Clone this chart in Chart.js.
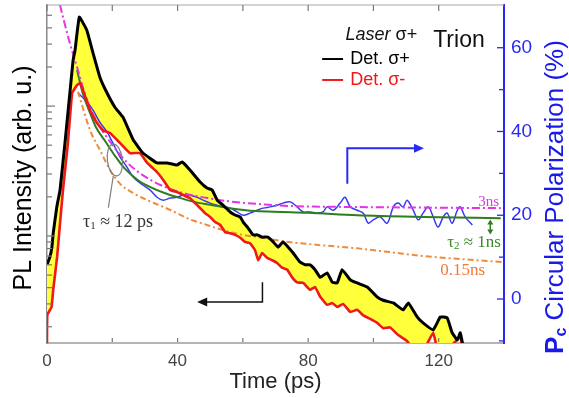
<!DOCTYPE html>
<html>
<head>
<meta charset="utf-8">
<script src="https://cdn.jsdelivr.net/npm/chart.js@4/dist/chart.umd.min.js"></script>
<style>
    body { margin: 0; background: #fff; }
    #box { width: 569px; height: 398px; }
</style>
</head>
<body>
<div id="box"><canvas id="chart"></canvas></div>
<script>
// tick values
const timeTicks = [0, 40, 80, 120]
const timeMinor = [20, 60, 100]
const pcTicks = [0, 20, 40, 60]
const pcMinor = [-10, 10, 30, 50]
const plMajor = [1, 10]
const plMinor = [0.2, 0.3, 0.4, 0.5, 0.6, 0.7, 0.8, 0.9, 2, 3, 4, 5, 6, 7, 8, 9, 20, 30, 40, 50]

// Det. sigma+ (black), PL intensity
const blackTime = [0, 0.9, 1.5, 1.9, 3.0, 3.4, 4.0, 5.5, 7.0, 8.0, 8.6, 9.9, 12.2, 14.1, 16.2, 18.4, 20.8, 23.3, 26.4, 29.4, 33.7, 36.8, 39.8, 41.4, 43.8, 46.9, 49.0, 50.6, 52.1, 53.9, 56.1, 57.6, 59.2, 60.1, 61.6, 63.1, 64.4, 65.9, 67.7, 69.3, 70.8, 72.3, 73.9, 75.4, 77.5, 79.1, 80.6, 82.1, 83.7, 85.8, 87.4, 88.9, 90.4, 92.9, 95.0, 98.1, 101.1, 103.0, 106.1, 109.1, 110.7, 113.4, 115.2, 118.3, 120.5, 122.6, 124.1, 125.7, 126.6, 127.5]
const blackPL = [0.60, 0.69, 0.82, 1.05, 1.67, 1.89, 2.26, 5.19, 12.6, 22.6, 27, 48.4, 38.4, 25.6, 16.7, 12.6, 9.8, 8.2, 5.5, 4.35, 3.65, 3.65, 3.52, 3.71, 3.22, 2.60, 2.34, 2.26, 1.89, 1.73, 1.53, 1.45, 1.40, 1.28, 1.15, 1.02, 1.02, 0.98, 0.98, 0.90, 0.82, 0.90, 0.82, 0.74, 0.63, 0.60, 0.60, 0.55, 0.48, 0.52, 0.44, 0.435, 0.55, 0.46, 0.435, 0.405, 0.34, 0.32, 0.305, 0.27, 0.305, 0.238, 0.214, 0.189, 0.238, 0.234, 0.18, 0.158, 0.18, 0.14]

// Det. sigma- (red), PL intensity
const redTime = [0, 0.1, 1.4, 1.9, 3.1, 4.0, 4.9, 6.4, 7.7, 9.2, 10.1, 11.0, 13.2, 15.3, 17.2, 19.3, 22.4, 25.4, 28.5, 30.7, 33.7, 35.6, 37.7, 39.8, 41.7, 43.8, 46.9, 48.4, 50.0, 51.5, 53.0, 54.6, 56.1, 57.6, 59.2, 60.7, 62.2, 63.7, 64.7, 65.9, 67.4, 69.0, 70.5, 72.0, 73.6, 75.1, 76.6, 78.5, 80.6, 82.1, 83.7, 85.8, 87.4, 88.9, 90.7, 92.9, 95.0, 96.9, 99.0, 101.1, 103.0, 105.1, 107.3, 109.1, 110.3, 112.8, 115.9, 118.3, 119.8, 123.5, 126.6, 127.5]
const redPL = [0.14, 0.247, 0.284, 0.385, 0.69, 1.26, 2.26, 5.19, 12.6, 14.5, 15.0, 13.3, 9.3, 7.4, 6.5, 6.2, 5.19, 4.35, 4.35, 3.65, 3.1, 2.7, 2.26, 2.18, 2.07, 1.95, 1.64, 1.50, 1.40, 1.28, 1.22, 1.07, 1.05, 1.02, 0.97, 0.90, 0.88, 0.78, 0.65, 0.74, 0.68, 0.65, 0.62, 0.57, 0.55, 0.48, 0.44, 0.435, 0.385, 0.405, 0.34, 0.295, 0.305, 0.284, 0.30, 0.26, 0.27, 0.245, 0.23, 0.215, 0.195, 0.198, 0.175, 0.163, 0.155, 0.13, 0.14, 0.18, 0.13, 0.14, 0.167, 0.12]

// circular polarization (blue), %
const blueTime = [9.5, 12.3, 14.1, 16.2, 18.4, 20.2, 22.4, 24.5, 26.4, 28.5, 31.6, 33.7, 35.6, 37.7, 39.8, 41.7, 43.8, 46.0, 47.8, 50.0, 52.1, 53.9, 56.1, 58.2, 60.1, 62.2, 64.4, 66.2, 68.4, 70.5, 72.3, 74.5, 76.6, 78.5, 80.6, 82.8, 84.6, 85.8, 87.7, 89.8, 91.3, 92.9, 95.0, 96.9, 98.4, 99.9, 102.1, 104.2, 106.1, 107.6, 109.1, 110.3, 112.2, 113.7, 115.2, 116.8, 118.3, 119.8, 121.4, 122.6, 124.1, 125.7, 126.6, 128.1, 130.3]
const bluePc = [49.2, 47.0, 45.1, 42.2, 39.9, 37.2, 33.9, 31.5, 29.1, 27.7, 26.0, 24.3, 23.6, 24.1, 24.3, 24.8, 24.8, 24.3, 23.6, 22.9, 22.4, 22.0, 21.7, 20.8, 20.0, 20.5, 21.2, 21.7, 22.0, 22.4, 22.9, 23.2, 22.0, 20.8, 20.8, 20.5, 20.8, 22.0, 21.2, 22.9, 24.3, 22.0, 21.2, 20.5, 18.1, 18.9, 19.6, 18.1, 22.0, 22.9, 22.0, 23.6, 21.2, 18.9, 20.5, 22.0, 19.6, 17.2, 19.6, 20.5, 18.1, 21.2, 22.0, 19.6, 17.7]

// fits, %
const greenTime = [9.2, 11, 13.2, 15, 18, 21, 24, 28, 32, 36, 40, 45, 50, 56, 64, 72, 80, 95, 115, 139]
const greenPc = [54.7, 49, 44.4, 41, 37.5, 34, 31, 28.3, 26.6, 25.3, 24.3, 23.2, 22.5, 21.7, 21.0, 20.8, 20.6, 20.0, 19.6, 19.3]
const magentaTime = [3.0, 4.0, 5.5, 7.0, 9.2, 11, 13, 15.5, 18, 21, 24, 28, 32, 36, 40, 45, 50, 55, 60, 68, 75, 90, 105, 120, 139]
const magentaPc = [74, 70.2, 65.5, 61.1, 55.4, 50.5, 46, 42, 39, 35.8, 33, 30.3, 28.3, 26.8, 25.7, 24.7, 24.0, 23.4, 23.0, 22.5, 22.2, 22.0, 21.9, 21.8, 21.7]
const orangeTime = [9.5, 13.2, 16.2, 19.3, 22.4, 26.4, 30.7, 35.6, 39.8, 43.8, 47.8, 52.1, 56.1, 60.1, 64.4, 68.4, 72.3, 76.6, 84.6, 95, 105, 115, 125.7, 139.8]
const orangePc = [49.5, 40.3, 35.6, 30.8, 27.5, 25.3, 23.6, 22.0, 20.5, 19.0, 18.0, 16.9, 16.0, 15.3, 14.8, 14.3, 13.8, 13.4, 12.8, 12.1, 11.2, 10.3, 9.6, 8.8]

function points(xs, ys) {
    let out = []
    for (let i = 0; i < xs.length; i++) {
        out.push({ x: xs[i], y: ys[i] })
    }
    return out
}

const SANS = "'Liberation Sans', Arial, sans-serif"
const SERIF = "'Liberation Serif', 'Times New Roman', serif"

function stroke(ctx, pts) {
    ctx.beginPath()
    ctx.moveTo(pts[0][0], pts[0][1])
    for (let i = 1; i < pts.length; i++) ctx.lineTo(pts[i][0], pts[i][1])
    ctx.stroke()
}

function head(ctx, x, y, dir, color) {
    // dir: "right", "left", "up", "down"
    ctx.fillStyle = color
    ctx.beginPath()
    if (dir == "right") { ctx.moveTo(x, y); ctx.lineTo(x - 10, y - 4.5); ctx.lineTo(x - 10, y + 4.5) }
    if (dir == "left") { ctx.moveTo(x, y); ctx.lineTo(x + 10, y - 4.5); ctx.lineTo(x + 10, y + 4.5) }
    if (dir == "up") { ctx.moveTo(x, y); ctx.lineTo(x - 3, y + 5); ctx.lineTo(x + 3, y + 5) }
    if (dir == "down") { ctx.moveTo(x, y); ctx.lineTo(x - 3, y - 5); ctx.lineTo(x + 3, y - 5) }
    ctx.closePath()
    ctx.fill()
}

// draws a run of text pieces one after another
function parts(ctx, list, x, y) {
    let cx = x
    for (let p of list) {
        ctx.font = p.font
        ctx.fillStyle = p.color
        ctx.fillText(p.t, cx, y + (p.dy || 0))
        cx += ctx.measureText(p.t).width
    }
    return cx
}

function width(ctx, list) {
    let w = 0
    for (let p of list) {
        ctx.font = p.font
        w += ctx.measureText(p.t).width
    }
    return w
}

let decor = {
    id: "decor",
    afterDraw(chart) {
        let ctx = chart.ctx
        let xs = chart.scales.x, yl = chart.scales.y, yr = chart.scales.y1
        let a = chart.chartArea
        ctx.save()

        // top axis line
        ctx.strokeStyle = "#a8a8a8"
        ctx.lineWidth = 1.2
        stroke(ctx, [[a.left, a.top], [a.right, a.top]])

        // inward ticks
        ctx.strokeStyle = "#777"
        ctx.lineWidth = 1.2
        for (let v of timeTicks.concat(timeMinor)) {
            let px = xs.getPixelForValue(v)
            if (v > 0) stroke(ctx, [[px, a.bottom - 1], [px, a.bottom - 5]])
            stroke(ctx, [[px, a.top], [px, a.top + 6]])
        }
        for (let v of plMajor) {
            let py = yl.getPixelForValue(v)
            stroke(ctx, [[a.left, py], [a.left + 8, py]])
        }
        for (let v of plMinor) {
            let py = yl.getPixelForValue(v)
            stroke(ctx, [[a.left, py], [a.left + 5, py]])
        }
        ctx.strokeStyle = "#2a2af5"
        ctx.lineWidth = 1.3
        for (let v of pcTicks) {
            let py = yr.getPixelForValue(v)
            stroke(ctx, [[a.right, py], [a.right - 7, py]])
        }
        for (let v of pcMinor) {
            let py = yr.getPixelForValue(v)
            stroke(ctx, [[a.right, py], [a.right - 5, py]])
        }

        // axis titles
        ctx.textBaseline = "middle"
        ctx.save()
        ctx.translate(24, (a.top + a.bottom) / 2 + 4)
        ctx.rotate(-Math.PI / 2)
        ctx.textAlign = "center"
        ctx.font = "25px " + SANS
        ctx.fillStyle = "#000"
        ctx.fillText("PL Intensity (arb. u.)", 0, 0)
        ctx.restore()

        ctx.textAlign = "center"
        ctx.font = "22px " + SANS
        ctx.fillStyle = "#222"
        ctx.fillText("Time (ps)", xs.getPixelForValue(70), 382)

        let rt = [
            { t: "P", font: "bold 26px " + SANS, color: "#1a1ae8" },
            { t: "c", font: "bold 16px " + SANS, color: "#1a1ae8", dy: 6 },
            { t: " Circular Polarization (%)", font: "26px " + SANS, color: "#1a1ae8" }
        ]
        ctx.save()
        ctx.translate(556, 197)
        ctx.rotate(-Math.PI / 2)
        ctx.textAlign = "left"
        parts(ctx, rt, -width(ctx, rt) / 2, 0)
        ctx.restore()

        // legend
        ctx.textAlign = "left"
        let lg = [
            { t: "Laser", font: "italic 18px " + SANS, color: "#111" },
            { t: " σ+", font: "18px " + SANS, color: "#111" }
        ]
        let lx = xs.getPixelForValue(113.4)
        parts(ctx, lg, lx - width(ctx, lg), yr.getPixelForValue(63))
        let rows = [["Det. σ+", "#000", 57.3], ["Det. σ-", "#f01818", 52.3]]
        for (let r of rows) {
            let py = yr.getPixelForValue(r[2])
            ctx.strokeStyle = r[1]
            ctx.lineWidth = 2
            stroke(ctx, [[xs.getPixelForValue(84.3), py], [xs.getPixelForValue(90.7), py]])
            ctx.font = "18px " + SANS
            ctx.fillStyle = r[1]
            ctx.fillText(r[0], xs.getPixelForValue(92.9), py)
        }
        ctx.font = "23px " + SANS
        ctx.fillStyle = "#111"
        ctx.fillText("Trion", xs.getPixelForValue(118.3), yr.getPixelForValue(61.8))

        // fit labels
        ctx.font = "15px " + SERIF
        ctx.fillStyle = "#d040e0"
        ctx.fillText("3ns", xs.getPixelForValue(132.1), yr.getPixelForValue(23.2))
        parts(ctx, [
            { t: "τ", font: "17px " + SERIF, color: "#3b8a2a" },
            { t: "2", font: "11px " + SERIF, color: "#3b8a2a", dy: 4 },
            { t: " ≈ 1ns", font: "17px " + SERIF, color: "#3b8a2a" }
        ], xs.getPixelForValue(122.6), yr.getPixelForValue(13.6))
        ctx.font = "17px " + SERIF
        ctx.fillStyle = "#f07a3a"
        ctx.fillText("0.15ns", xs.getPixelForValue(120.5), yr.getPixelForValue(6.9))
        parts(ctx, [
            { t: "τ", font: "18px " + SERIF, color: "#333" },
            { t: "1", font: "11px " + SERIF, color: "#333", dy: 4 },
            { t: " ≈ 12 ps", font: "18px " + SERIF, color: "#333" }
        ], xs.getPixelForValue(11.0), yr.getPixelForValue(18.4))

        // ellipse round the fast part
        ctx.strokeStyle = "#808080"
        ctx.lineWidth = 1.2
        ctx.beginPath()
        ctx.ellipse(xs.getPixelForValue(20.8), yr.getPixelForValue(33.2), 7.5, 16, -0.12, 0, Math.PI * 2)
        ctx.stroke()
        stroke(ctx, [[xs.getPixelForValue(20.3), yr.getPixelForValue(29.4)], [xs.getPixelForValue(18.8), yr.getPixelForValue(21.8)]])

        // green double arrow between fits
        let gx = xs.getPixelForValue(135.8)
        let g1 = yr.getPixelForValue(19.0), g2 = yr.getPixelForValue(15.4)
        ctx.strokeStyle = "#2e7d1e"
        ctx.lineWidth = 1.5
        stroke(ctx, [[gx, g1 + 3], [gx, g2 - 3]])
        head(ctx, gx, g1, "up", "#2e7d1e")
        head(ctx, gx, g2, "down", "#2e7d1e")

        // arrow to the polarization axis
        ctx.strokeStyle = "#2a2af5"
        ctx.lineWidth = 2
        let bx = xs.getPixelForValue(92), by = yr.getPixelForValue(36)
        stroke(ctx, [[bx, yr.getPixelForValue(27.5)], [bx, by], [xs.getPixelForValue(115.5) - 8, by]])
        head(ctx, xs.getPixelForValue(115.5), by, "right", "#2a2af5")

        // arrow to the intensity axis
        ctx.strokeStyle = "#111"
        ctx.lineWidth = 1.5
        let kx = xs.getPixelForValue(66), ky = yl.getPixelForValue(0.31)
        stroke(ctx, [[kx, yl.getPixelForValue(0.44)], [kx, ky], [xs.getPixelForValue(46) + 8, ky]])
        head(ctx, xs.getPixelForValue(46), ky, "left", "#111")

        ctx.restore()
    }
}

let chart = new Chart(document.getElementById("chart").getContext("2d"), {
    type: "line",
    data: {
        datasets: [
            {
                label: "Det. σ+",
                data: points(blackTime, blackPL),
                yAxisID: "y",
                borderColor: "#000",
                borderWidth: 3,
                backgroundColor: "#ffff3c",
                fill: { target: 1 },
                pointRadius: 0,
                tension: 0.1
            },
            {
                label: "Det. σ-",
                data: points(redTime, redPL),
                yAxisID: "y",
                borderColor: "#f01818",
                borderWidth: 2.6,
                fill: false,
                pointRadius: 0,
                tension: 0.1
            },
            {
                label: "3ns",
                data: points(magentaTime, magentaPc),
                yAxisID: "y1",
                borderColor: "#e533e5",
                borderWidth: 2,
                borderDash: [8, 3, 2, 3],
                fill: false,
                pointRadius: 0,
                cubicInterpolationMode: "monotone"
            },
            {
                label: "0.15ns",
                data: points(orangeTime, orangePc),
                yAxisID: "y1",
                borderColor: "#f08a3c",
                borderWidth: 2,
                borderDash: [6, 3, 2, 3],
                fill: false,
                pointRadius: 0,
                cubicInterpolationMode: "monotone"
            },
            {
                label: "1ns",
                data: points(greenTime, greenPc),
                yAxisID: "y1",
                borderColor: "#2e7d1e",
                borderWidth: 2,
                fill: false,
                pointRadius: 0,
                cubicInterpolationMode: "monotone"
            },
            {
                label: "Pc",
                data: points(blueTime, bluePc),
                yAxisID: "y1",
                borderColor: "#3a3af0",
                borderWidth: 1.5,
                fill: false,
                pointRadius: 0,
                tension: 0.35
            }
        ]
    },
    options: {
        responsive: true,
        maintainAspectRatio: false,
        animation: false,
        devicePixelRatio: 1,
        layout: { padding: { top: 5, left: 0, right: 0, bottom: 0 } },
        plugins: {
            legend: { display: false },
            tooltip: { enabled: false },
            filler: { drawTime: "beforeDatasetsDraw" }
        },
        scales: {
            x: {
                type: "linear",
                min: 0,
                max: 140,
                grid: { display: false, drawTicks: false },
                border: { display: true, color: "#b4b4b4", width: 2 },
                afterBuildTicks: s => { s.ticks = timeTicks.map(v => ({ value: v })) },
                afterFit: s => { s.height = 55; s.paddingLeft = 0; s.paddingRight = 0 },
                ticks: { color: "#444", font: { size: 17, family: SANS }, padding: 8, maxRotation: 0 }
            },
            y: {
                type: "logarithmic",
                position: "left",
                min: 0.15,
                max: 60,
                grid: { display: false, drawTicks: false },
                border: { display: true, color: "#8a8a8a", width: 1.5 },
                ticks: { display: false },
                afterFit: s => { s.width = 47; s.paddingTop = 0; s.paddingBottom = 0 }
            },
            y1: {
                type: "linear",
                position: "right",
                min: -10.5,
                max: 70.2,
                grid: { display: false, drawTicks: false },
                border: { display: true, color: "#2a2af5", width: 2 },
                afterBuildTicks: s => { s.ticks = pcTicks.map(v => ({ value: v })) },
                afterFit: s => { s.width = 65; s.paddingTop = 0; s.paddingBottom = 0 },
                ticks: { color: "#2a2af5", font: { size: 19, family: SANS }, padding: 7 }
            }
        }
    },
    plugins: [decor]
})
</script>
</body>
</html>
